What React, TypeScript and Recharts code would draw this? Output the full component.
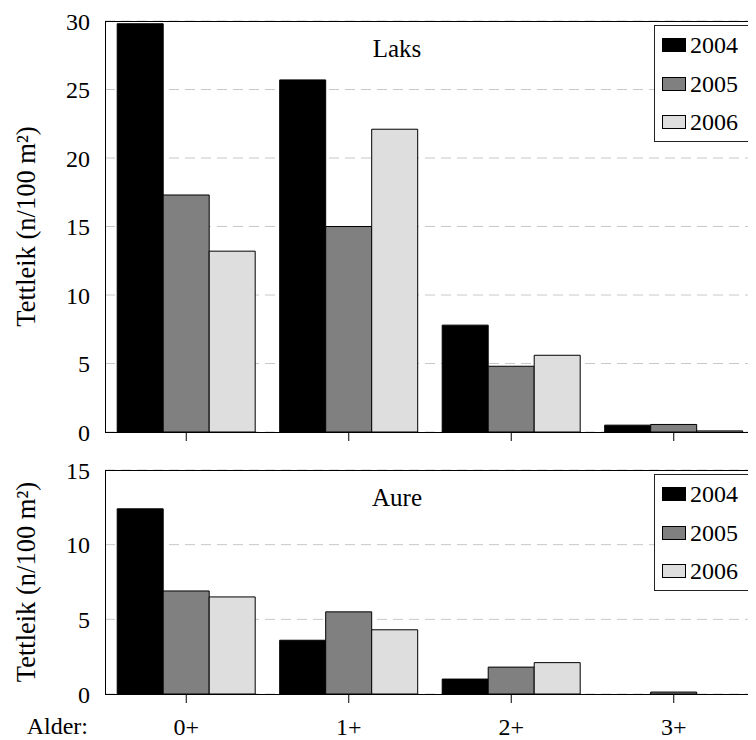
import { Bar, BarChart, CartesianGrid, Legend, XAxis, YAxis } from 'recharts';

const categories = ['0+', '1+', '2+', '3+'];
const years = ['2004', '2005', '2006'];
const colors = ['#000000', '#808080', '#dedede'];

// Laks (salmon), density per 100 m2
const laks2004 = [29.8, 25.7, 7.8, 0.5];
const laks2005 = [17.3, 15.0, 4.8, 0.55];
const laks2006 = [13.2, 22.1, 5.6, 0.08];

// Aure (trout)
const aure2004 = [12.4, 3.6, 1.0, 0];
const aure2005 = [6.9, 5.5, 1.8, 0.13];
const aure2006 = [6.5, 4.3, 2.1, 0];

const laksTicks = [0, 5, 10, 15, 20, 25, 30];
const aureTicks = [0, 5, 10, 15];

const FONT = '"Liberation Serif", "Times New Roman", serif';

function buildRows(series: number[][]) {
  return categories.map((age, i) => {
    const row: Record<string, string | number> = { age };
    years.forEach((y, k) => {
      row[y] = series[k][i];
    });
    return row;
  });
}

const laksData = buildRows([laks2004, laks2005, laks2006]);
const aureData = buildRows([aure2004, aure2005, aure2006]);

function LegendBox({ payload }: any) {
  return (
    <div
      style={{
        border: '1px solid #222',
        background: '#fff',
        width: 98,
        height: 117,
        boxSizing: 'border-box',
        fontFamily: FONT,
      }}
    >
      {(payload || []).map((p: any) => (
        <div
          key={p.value}
          style={{ display: 'flex', alignItems: 'center', height: 38.5 }}
        >
          <span
            style={{
              display: 'inline-block',
              width: 24,
              height: 14,
              border: '1px solid #000',
              boxSizing: 'border-box',
              background: p.color,
              marginLeft: 7,
              marginRight: 4,
            }}
          />
          <span style={{ fontSize: 24, lineHeight: 1, color: '#000' }}>
            {p.value}
          </span>
        </div>
      ))}
    </div>
  );
}

function YLabel({ viewBox }: any) {
  const x = viewBox.x + 18;
  const y = viewBox.y + viewBox.height / 2;
  return (
    <text
      x={x}
      y={y}
      transform={`rotate(-90 ${x} ${y})`}
      textAnchor="middle"
      dominantBaseline="central"
      fontSize={26.5}
      fontFamily={FONT}
      fill="#000"
    >
      Tettleik (n/100 m²)
    </text>
  );
}

function Panel({
  data,
  ticks,
  title,
  top,
  height,
  marginTop,
  xHeight,
  showLabels,
}: {
  data: Record<string, string | number>[];
  ticks: number[];
  title: string;
  top: number;
  height: number;
  marginTop: number;
  xHeight: number;
  showLabels: boolean;
}) {
  const plotH = height - marginTop - xHeight;
  return (
    <div style={{ position: 'absolute', left: 0, top, width: 748, height }}>
      <BarChart
        width={748}
        height={height}
        data={data}
        margin={{ top: marginTop, right: 1, left: 0, bottom: 0 }}
        barCategoryGap="7.5%"
        barGap={0}
      >
        <CartesianGrid
          vertical={false}
          stroke="#c8c8c8"
          strokeDasharray="10 6"
        />
        <XAxis
          dataKey="age"
          height={xHeight}
          axisLine={false}
          tickSize={9}
          tickLine={{ stroke: '#000' }}
          tickMargin={15}
          interval={0}
          tickFormatter={showLabels ? undefined : () => ''}
          tick={{ fontSize: 24, fill: '#000', fontFamily: FONT }}
        />
        <YAxis
          width={97}
          domain={[ticks[0], ticks[ticks.length - 1]]}
          ticks={ticks}
          interval={0}
          axisLine={false}
          tickLine={false}
          tickSize={0}
          tickMargin={15}
          tick={{ fontSize: 24, fill: '#000', fontFamily: FONT }}
          label={{ content: YLabel }}
        />
        <Legend
          layout="horizontal"
          verticalAlign="middle"
          align="center"
          wrapperStyle={{ top: marginTop + 4, right: 4, left: 'auto', width: 98 }}
          content={LegendBox}
        />
        {years.map((y, k) => (
          <Bar
            key={y}
            dataKey={y}
            name={y}
            fill={colors[k]}
            stroke="#000"
            strokeWidth={1}
            isAnimationActive={false}
          />
        ))}
        <text
          x={389}
          y={marginTop + 36}
          textAnchor="middle"
          fontSize={25}
          fontFamily={FONT}
          fill="#000"
        >
          {title}
        </text>
        {showLabels && (
          <text
            x={80}
            y={height - 6}
            textAnchor="end"
            fontSize={24}
            fontFamily={FONT}
            fill="#000"
          >
            Alder:
          </text>
        )}
      </BarChart>
      <div
        style={{
          position: 'absolute',
          left: 97,
          top: marginTop,
          width: 650,
          height: plotH + 1,
          border: '1px solid #000',
          boxSizing: 'border-box',
          pointerEvents: 'none',
        }}
      />
    </div>
  );
}

export default function App() {
  return (
    <div
      style={{
        position: 'relative',
        width: 748,
        height: 732,
        fontFamily: FONT,
        background: '#fff',
      }}
    >
      <Panel
        data={laksData}
        ticks={laksTicks}
        title="Laks"
        top={0}
        height={440}
        marginTop={13}
        xHeight={16}
        showLabels={false}
      />
      <Panel
        data={aureData}
        ticks={aureTicks}
        title="Aure"
        top={440}
        height={292}
        marginTop={22}
        xHeight={46}
        showLabels
      />
    </div>
  );
}
